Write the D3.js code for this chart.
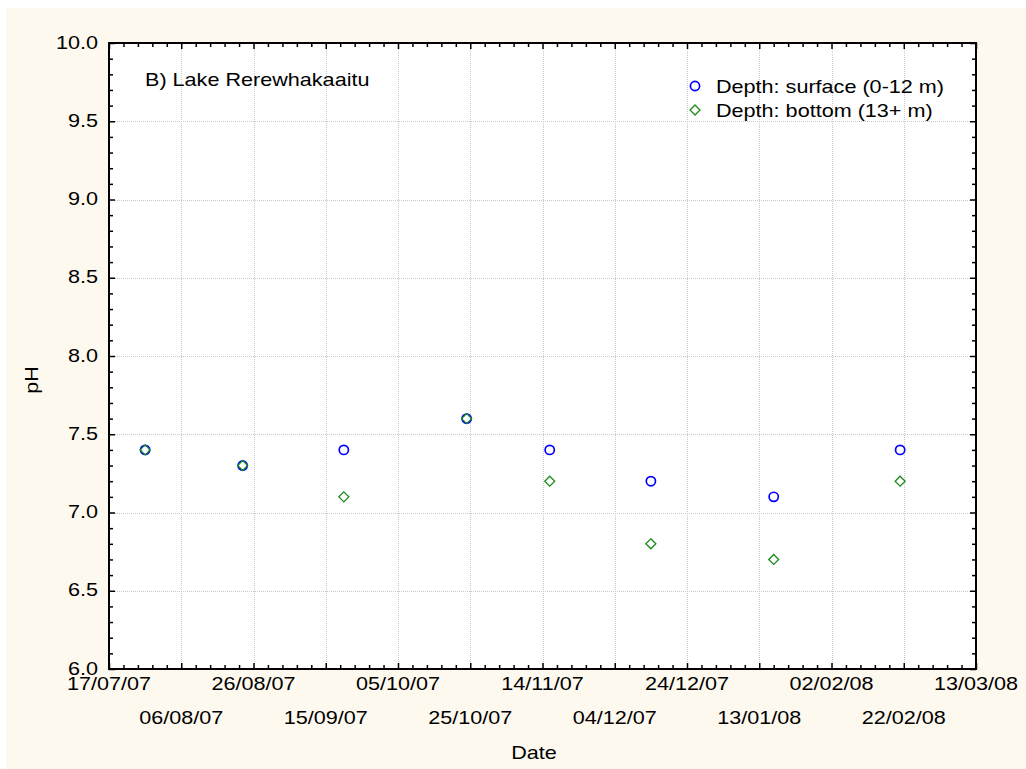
<!DOCTYPE html>
<html>
<head>
<meta charset="utf-8">
<script src="https://cdn.jsdelivr.net/npm/d3@7"></script>
<style>
  html, body { margin: 0; padding: 0; background: #ffffff; }
  svg { display: block; font-family: "Liberation Sans", Arial, sans-serif; }
</style>
</head>
<body>
<svg id="chart" width="1026" height="769"></svg>
<script>
// Sampling dates (dd/mm/yy)
const sampleDates = ["27/07/07", "23/08/07", "20/09/07", "24/10/07", "16/11/07", "14/12/07", "17/01/08", "21/02/08"];
// pH at the surface (0-12 m)
const surfacePH = [7.4, 7.3, 7.4, 7.6, 7.4, 7.2, 7.1, 7.4];
// pH at the bottom (13+ m)
const bottomPH = [7.4, 7.3, 7.1, 7.6, 7.2, 6.8, 6.7, 7.2];
// Axis tick labels
const xTickLabels = ["17/07/07", "06/08/07", "26/08/07", "15/09/07", "05/10/07", "25/10/07", "14/11/07",
                     "04/12/07", "24/12/07", "13/01/08", "02/02/08", "22/02/08", "13/03/08"];
const yTickLabels = ["6.0", "6.5", "7.0", "7.5", "8.0", "8.5", "9.0", "9.5", "10.0"];
const seriesNames = ["Depth: surface (0-12 m)", "Depth: bottom (13+ m)"];
const panelTitle = "B) Lake Rerewhakaaitu";

const parseDate = d3.timeParse("%d/%m/%y");
const fmt = d3.timeFormat("%d/%m/%y");

const svg = d3.select("#chart");
const W = 1026, H = 769;
const plot = { left: 109, top: 43, right: 976, bottom: 669 };
const FONT = 18, STRETCH = 1.2;

// text helper: glyphs drawn slightly wide, as in the original export
function label(parent, x, y, str, anchor, rotate) {
  const g = parent.append("g")
    .attr("transform", `translate(${x},${y})${rotate ? ` rotate(${rotate})` : ""} scale(${STRETCH},1)`);
  g.append("text").attr("x", 0).attr("y", 0)
    .attr("text-anchor", anchor || "start").attr("font-size", FONT).attr("fill", "#000").text(str);
  return g;
}

// page background
svg.append("rect").attr("x", 6).attr("y", 8).attr("width", W - 6).attr("height", H - 8).attr("fill", "#fef9ee");
svg.append("rect").attr("x", plot.left).attr("y", plot.top)
  .attr("width", plot.right - plot.left).attr("height", plot.bottom - plot.top).attr("fill", "#ffffff");

const xTicks = xTickLabels.map(parseDate);
const x = d3.scaleTime().domain([xTicks[0], xTicks[xTicks.length - 1]]).range([plot.left, plot.right]);
const yTicks = yTickLabels.map(Number);
const y = d3.scaleLinear().domain([6, 10]).range([plot.bottom, plot.top]);

// minor ticks: 4 per major interval
const xMinor = [];
for (let i = 0; i < xTicks.length - 1; i++) {
  for (let k = 1; k < 5; k++) xMinor.push(d3.timeDay.offset(xTicks[i], 4 * k));
}
const yMinor = d3.range(60, 101).map(v => v / 10).filter(v => Math.abs(v * 2 - Math.round(v * 2)) > 1e-6);

// grid lines
const grid = svg.append("g").attr("stroke", "#c9c9c9").attr("stroke-width", 1).attr("stroke-dasharray", "1,1");
grid.selectAll("line.gx").data(xTicks.slice(1, -1)).join("line")
  .attr("x1", d => Math.round(x(d)) + 0.5).attr("x2", d => Math.round(x(d)) + 0.5)
  .attr("y1", plot.top).attr("y2", plot.bottom);
grid.selectAll("line.gy").data(yTicks.slice(1, -1)).join("line")
  .attr("y1", d => Math.round(y(d)) + 0.5).attr("y2", d => Math.round(y(d)) + 0.5)
  .attr("x1", plot.left).attr("x2", plot.right);

// axes with inward ticks on all four sides
function addAxis(axisFn, scale, values, size, transform) {
  const g = svg.append("g").attr("transform", transform)
    .call(axisFn(scale).tickValues(values).tickSize(size).tickFormat(""));
  g.select(".domain").remove();
  g.selectAll(".tick line").attr("stroke", "#000").attr("stroke-width", 1.5);
  return g;
}
addAxis(d3.axisBottom, x, xTicks, -6, `translate(0,${plot.bottom})`);
addAxis(d3.axisBottom, x, xMinor, -4, `translate(0,${plot.bottom})`);
addAxis(d3.axisTop, x, xTicks, -6, `translate(0,${plot.top})`);
addAxis(d3.axisTop, x, xMinor, -4, `translate(0,${plot.top})`);
addAxis(d3.axisLeft, y, yTicks, -6, `translate(${plot.left},0)`);
addAxis(d3.axisLeft, y, yMinor, -4, `translate(${plot.left},0)`);
addAxis(d3.axisRight, y, yTicks, -6, `translate(${plot.right},0)`);
addAxis(d3.axisRight, y, yMinor, -4, `translate(${plot.right},0)`);

// frame
svg.append("rect").attr("x", plot.left).attr("y", plot.top)
  .attr("width", plot.right - plot.left).attr("height", plot.bottom - plot.top)
  .attr("fill", "none").attr("stroke", "#000").attr("stroke-width", 2);

// y tick labels
const yLab = svg.append("g");
yTickLabels.forEach(d => label(yLab, 98, y(+d) + 5.5, d, "end"));

// x tick labels, staggered over two rows
const xLab = svg.append("g");
xTicks.forEach((d, i) => label(xLab, x(d), i % 2 === 0 ? 690 : 724, fmt(d), "middle"));

// axis titles
label(svg, 534, 759, "Date", "middle");
label(svg, 38, 380, "pH", "middle", -90);

// panel title
label(svg, 145, 86, panelTitle, "start");

const blue = "#0000ff", green = "#1a8a1a";
const diamond = (cx, cy, r) => `M${cx},${cy - r}L${cx + r},${cy}L${cx},${cy + r}L${cx - r},${cy}Z`;

const dates = sampleDates.map(parseDate);

// surface circles
svg.append("g").selectAll("circle").data(dates).join("circle")
  .attr("cx", d => x(d)).attr("cy", (d, i) => y(surfacePH[i])).attr("r", 4.6)
  .attr("fill", "none").attr("stroke", blue).attr("stroke-width", 1.7);

// bottom diamonds
svg.append("g").selectAll("path").data(dates).join("path")
  .attr("d", (d, i) => diamond(x(d), y(bottomPH[i]), 5))
  .attr("fill", "none").attr("stroke", green).attr("stroke-width", 1.3);

// legend
const legend = svg.append("g");
legend.append("circle").attr("cx", 695).attr("cy", 86).attr("r", 4.6)
  .attr("fill", "none").attr("stroke", blue).attr("stroke-width", 1.7);
legend.append("path").attr("d", diamond(695, 110, 5))
  .attr("fill", "none").attr("stroke", green).attr("stroke-width", 1.3);
seriesNames.forEach((d, i) => label(legend, 716, 93 + i * 24, d, "start"));
</script>
</body>
</html>
